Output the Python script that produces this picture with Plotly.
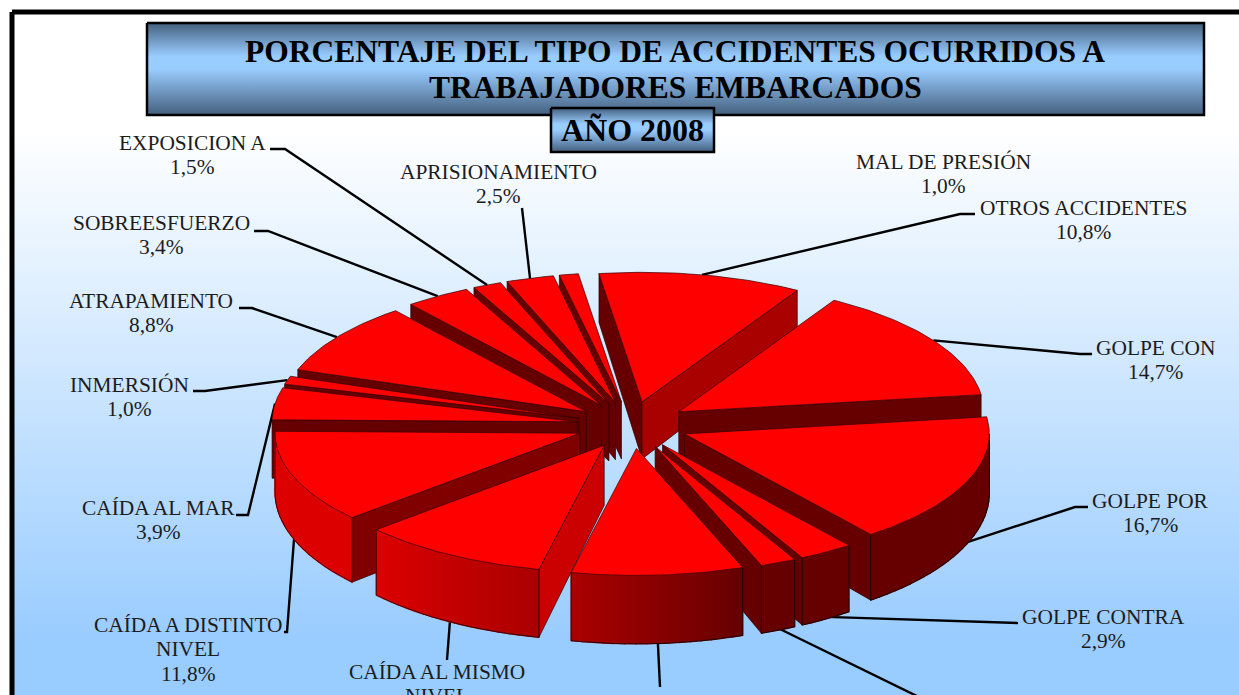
import math
import numpy as np
import plotly.graph_objects as go

# ---- data (clockwise from the first slice) ----
CATEGORY_LINES = [
    ["OTROS ACCIDENTES"], ["GOLPE CON"], ["GOLPE POR"], ["GOLPE CONTRA"],
    [], [],
    ["CAÍDA AL MISMO", "NIVEL"], ["CAÍDA A DISTINTO", "NIVEL"], ["CAÍDA AL MAR"],
    ["INMERSIÓN"], ["ATRAPAMIENTO"], ["SOBREESFUERZO"], ["EXPOSICION A"],
    ["APRISIONAMIENTO"], ["MAL DE PRESIÓN"],
]
VALUES = [10.8, 14.7, 16.7, 2.9, 1.9, 9.1, 10.0, 11.8, 3.9, 1.0, 8.8, 3.4, 1.5, 2.5, 1.0]
TITLE_LINES = ["PORCENTAJE DEL TIPO DE ACCIDENTES OCURRIDOS A", "TRABAJADORES EMBARCADOS"]
YEAR_TEXT = "AÑO 2008"

# ---- projection of the exploded pie ----
W, H = 1239, 695
CX, CY = 632.5, 425
RX, RY = 305, 127
EXPLODE, SQUASH = 56, 0.42
START_DEG = -9.6
BACK_TWIST_DEG, BACK_LIFT = 1.5, 2.5   # mild perspective at the far side of the pie
DRAW_ORDER = [14, 13, 12, 11, 10, 9, 8, 7, 6, 0, 1, 2, 3, 4, 5]

# label layout: per slice, line centres; leader: elbow, end
LABEL_X = [1083, 1155, 1150, 1103, None, None, 437, 188, 158, 129, 151, 161, 192, 498, 943]
LABEL_Y = [208, 348, 501, 617, None, None, 672, 625, 508, 385, 301, 223, 143, 172, 162]
LINE_GAP = 24.3
LEADER_FROM_BOTTOM = [False, False, True, True, True, True, True, True, False, False, False, False, False, False, None]
LEADER_ELBOW = [(960, 214), (1080, 354), (1075, 507), (1010, 623), (925, 700), (660, 687),
                (447, 660), (287, 632), (248, 515), (205, 391), (252, 308), (268, 231), (285, 149), (522, 208), None]
LEADER_END = [(975, 214), (1092, 354), (1088, 507), (1018, 623), None, None,
              None, (284, 632), (236, 515), (193, 391), (239, 308), (254, 231), (270, 149), None, None]


def depth(y):
    return 57 + 0.065 * (y - 400)


def rim(apex, deg):
    back = max(0.0, math.cos(math.radians(deg)))
    a = math.radians(deg + BACK_TWIST_DEG * back)
    return apex[0] + RX * math.sin(a), apex[1] - RY * math.cos(a) - BACK_LIFT * back


def shade(table, theta):
    th, v = zip(*table)
    return "#%02x0000" % int(round(float(np.interp(theta % 360, th, v))))


SIDE_SHADE = [(0, 0x66), (90, 0xdd), (102, 0xcc), (119, 0xaa), (138, 0x80), (165, 0x66), (360, 0x66)]
OUTER_SHADE = [(0, 0x66), (160, 0x66), (176, 0x88), (192, 0xaa), (228, 0xdd), (360, 0xdd)]

fig = go.Figure()


def poly(xs, ys, fill, line=None, lw=1.2):
    fig.add_trace(go.Scatter(x=list(xs), y=list(ys), mode="lines", fill="toself", fillcolor=fill,
                             line=dict(color=line or fill, width=lw), hoverinfo="skip", showlegend=False))


def grad_box(x0, y0, x1, y1, scale, border=None, bw=0):
    fig.add_trace(go.Scatter(x=[x0, x1, x1, x0, x0], y=[y0, y0, y1, y1, y0], mode="lines", fill="toself",
                             fillgradient=dict(type="vertical", colorscale=scale),
                             line=dict(color=border or "rgba(0,0,0,0)", width=bw),
                             hoverinfo="skip", showlegend=False))


def stroke(xs, ys, width=2.4):
    fig.add_trace(go.Scatter(x=xs, y=ys, mode="lines", line=dict(color="#000000", width=width),
                             hoverinfo="skip", showlegend=False))


# page frame and background
BG_SCALE = [[0, "#99ccff"], [0.113, "#99ccff"], [0.833, "#ffffff"], [1, "#ffffff"]]
grad_box(12, 12, 1260, 720, BG_SCALE, "#000000", 5)

# slice angles
spans = []
a0 = START_DEG
total = sum(VALUES)
for v in VALUES:
    a1 = a0 + 360 * v / total
    spans.append((a0, a1))
    a0 = a1


def apex_of(a0, a1):
    m = math.radians((a0 + a1) / 2)
    return CX + EXPLODE * math.sin(m), CY - EXPLODE * SQUASH * math.cos(m)


# leaders (under the pie)
for i, (a0, a1) in enumerate(spans):
    if LEADER_ELBOW[i] is None:
        continue
    ap = apex_of(a0, a1)
    sx, sy = rim(ap, (a0 + a1) / 2)
    if LEADER_FROM_BOTTOM[i]:
        sy += depth(sy) - 2
    xs, ys = [sx, LEADER_ELBOW[i][0]], [sy, LEADER_ELBOW[i][1]]
    if LEADER_END[i]:
        xs.append(LEADER_END[i][0])
        ys.append(LEADER_END[i][1])
    stroke(xs, ys)

# wedges, back to front
for i in DRAW_ORDER:
    a0, a1 = spans[i]
    ap = apex_of(a0, a1)
    apb = (ap[0], ap[1] + depth(ap[1]))
    # radial side faces
    for edge, normal in ((a0, a0 - 90), (a1, a1 + 90)):
        if math.cos(math.radians(normal)) < 0:
            ex, ey = rim(ap, edge)
            poly([ap[0], ex, ex, ap[0], ap[0]],
                 [ap[1], ey, ey + depth(ey), apb[1], ap[1]],
                 shade(SIDE_SHADE, normal), "#2a0000", 0.7)
    # outer curved wall, in narrow shaded strips
    lo, hi = max(a0 + 360 * (a0 < 0), 90), min(a1 + 360 * (a0 < 0), 270)
    if hi > lo:
        n = max(1, int((hi - lo) / 2))
        edges = np.linspace(lo, hi, n + 1)
        for b0, b1 in zip(edges[:-1], edges[1:]):
            xa, ya = rim(ap, b0)
            xb, yb = rim(ap, b1)
            poly([xa, xb, xb, xa, xa], [ya, yb, yb + depth(yb), ya + depth(ya), ya],
                 shade(OUTER_SHADE, (b0 + b1) / 2))
        angs = np.linspace(lo, hi, n + 1)
        bx, by = zip(*[rim(ap, d) for d in angs])
        by2 = [y + depth(y) for y in by]
        stroke(list(bx), by2, 0.7)
        stroke([bx[0], bx[0]], [by[0], by2[0]], 0.7)
        stroke([bx[-1], bx[-1]], [by[-1], by2[-1]], 0.7)
    # top
    angs = np.linspace(a0, a1, max(3, int(a1 - a0) + 2))
    rx_, ry_ = zip(*[rim(ap, d) for d in angs])
    poly([ap[0], *rx_, ap[0]], [ap[1], *ry_, ap[1]], "#ff0000", "#330000", 0.7)

# title boxes
BOX_SCALE = [[0, "#44607e"], [0.5, "#99ccff"], [0.64, "#99ccff"], [1, "#44607e"]]
grad_box(147, 23, 1204, 115, BOX_SCALE, "#000000", 2.5)
grad_box(551, 108, 714, 152, BOX_SCALE, "#000000", 2.5)

annotations = []


def text(x, y, s, size, bold=False, color="#1c1c1c", yanchor="middle"):
    annotations.append(dict(x=x, y=y, xref="x", yref="y", text=f"<b>{s}</b>" if bold else s, showarrow=False,
                            xanchor="center", yanchor=yanchor,
                            font=dict(family="Liberation Serif", size=size, color=color)))


LABEL_SIZE = 21.4
text(675, 51, TITLE_LINES[0], 31.5, True, "#000000")
text(675, 87.5, TITLE_LINES[1], 31.5, True, "#000000")
text(632.5, 130, YEAR_TEXT, 32, True, "#000000")

for i, lines in enumerate(CATEGORY_LINES):
    if LABEL_X[i] is None:
        continue
    y = LABEL_Y[i]
    for ln in lines + [f"{VALUES[i]:.1f}%".replace(".", ",")]:
        if y < H - 5:
            text(LABEL_X[i], y, ln, LABEL_SIZE)
        elif y < H + 8:
            # centre falls on the page edge: anchor by the top so the visible part is kept
            text(LABEL_X[i], y - LABEL_SIZE * 0.65, ln, LABEL_SIZE, yanchor="top")
        y += LINE_GAP

fig.update_layout(
    width=W, height=H, margin=dict(l=0, r=0, t=0, b=0), autosize=False,
    paper_bgcolor="#ffffff", plot_bgcolor="#ffffff", showlegend=False,
    xaxis=dict(range=[0, W], visible=False, fixedrange=True),
    yaxis=dict(range=[H, 0], visible=False, fixedrange=True),
    annotations=annotations,
)
fig.write_html("out.html", config={"displayModeBar": False},
               post_script="document.body.style.margin='0';document.body.style.overflow='hidden';")
